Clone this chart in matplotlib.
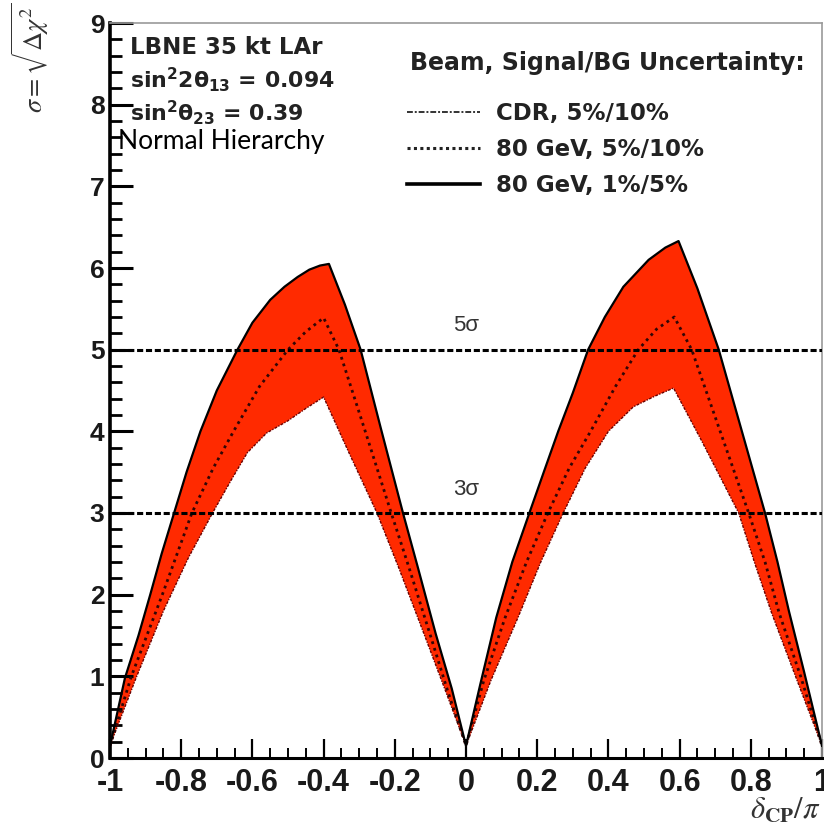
import numpy as np
import matplotlib
matplotlib.use("Agg")
import matplotlib.pyplot as plt
from matplotlib.lines import Line2D
from matplotlib.ticker import MultipleLocator

plt.rcParams["font.family"] = ["Liberation Sans", "DejaVu Sans"]
plt.rcParams["mathtext.fontset"] = "custom"
plt.rcParams["mathtext.rm"] = "DejaVu Sans:bold"
plt.rcParams["mathtext.it"] = "DejaVu Sans:bold"
plt.rcParams["mathtext.bf"] = "DejaVu Sans:bold"

# values (delta_CP / pi, sigma)
x_best = [-1, -0.958, -0.92, -0.887, -0.855, -0.82, -0.785, -0.746, -0.70, -0.642,
          -0.60, -0.55, -0.51, -0.473, -0.44, -0.41, -0.385, -0.34, -0.296, -0.24,
          -0.177, -0.135, -0.085, -0.04, 0,
          0.04, 0.085, 0.13, 0.178, 0.22, 0.259, 0.30, 0.343, 0.39, 0.442,
          0.513, 0.56, 0.597, 0.65, 0.71, 0.775, 0.84, 0.875, 0.907, 0.95, 1.0]
y_best = [0.15, 0.98, 1.5, 2.0, 2.5, 3.0, 3.5, 4.0, 4.5, 5.0,
          5.33, 5.61, 5.77, 5.89, 5.98, 6.03, 6.05, 5.55, 5.0, 4.05,
          3.0, 2.33, 1.52, 0.85, 0.15,
          0.9, 1.72, 2.4, 3.0, 3.52, 4.0, 4.47, 5.0, 5.4, 5.77,
          6.1, 6.25, 6.33, 5.75, 5.0, 4.0, 3.0, 2.4, 1.8, 1.05, 0.15]

x_mid = [-1, -0.94, -0.853, -0.77, -0.71, -0.653, -0.58, -0.50, -0.45, -0.40,
         -0.357, -0.283, -0.21, -0.16, -0.10, -0.05, 0,
         0.05, 0.11, 0.17, 0.23, 0.29, 0.35, 0.42, 0.484, 0.535, 0.585,
         0.634, 0.714, 0.794, 0.84, 0.88, 0.94, 1.0]
y_mid = [0.15, 1.0, 2.0, 3.0, 3.55, 4.0, 4.55, 5.0, 5.22, 5.39,
         5.0, 4.0, 3.0, 2.33, 1.5, 0.8, 0.15,
         0.95, 1.72, 2.4, 3.0, 3.55, 4.0, 4.55, 5.0, 5.25, 5.40,
         5.0, 4.0, 3.0, 2.4, 1.77, 1.0, 0.15]

x_cdr = [-1, -0.925, -0.85, -0.78, -0.712, -0.66, -0.614, -0.56, -0.50, -0.45,
         -0.40, -0.33, -0.25, -0.189, -0.118, -0.06, 0,
         0.07, 0.146, 0.21, 0.273, 0.335, 0.40, 0.47, 0.53, 0.583,
         0.66, 0.766, 0.81, 0.859, 0.93, 1.0]
y_cdr = [0.15, 1.0, 1.8, 2.45, 3.0, 3.4, 3.74, 3.98, 4.13, 4.28,
         4.42, 3.75, 3.0, 2.33, 1.52, 0.85, 0.15,
         0.95, 1.72, 2.4, 3.0, 3.55, 4.0, 4.3, 4.43, 4.53,
         3.9, 3.0, 2.4, 1.77, 0.95, 0.15]

sig_levels = [3, 5]
sig_labels = ["3\u03c3", "5\u03c3"]
legend_title = "Beam, Signal/BG Uncertainty:"
legend_labels = ["CDR, 5%/10%", "80 GeV, 5%/10%", "80 GeV, 1%/5%"]

W, H = 824, 836


def px(x, y):
    return x / W, 1 - y / H


fig = plt.figure(figsize=(W / 100, H / 100), dpi=100)
ax = fig.add_axes([110 / W, 1 - 758 / H, (822 - 110) / W, (758 - 23) / H])

# red band between CDR and best curve
ax.fill(np.concatenate([x_best, x_cdr[::-1]]),
        np.concatenate([y_best, y_cdr[::-1]]),
        color="#ff2a00", lw=0, zorder=1)
ax.plot(x_cdr, y_cdr, color="#6a0000", lw=1.0, dashes=(2, 1, 1, 1), zorder=2)
ax.plot(x_mid, y_mid, color="#300606", lw=2.0, dashes=(1, 1.5), zorder=3)
ax.plot(x_best, y_best, color="black", lw=1.6, zorder=4)

for lev, lab in zip(sig_levels, sig_labels):
    ax.axhline(lev, color="black", lw=2.2, dashes=(2, 0.9), zorder=5)
    ax.text(0, lev + 0.29, lab, ha="center", va="center", fontsize=16,
            color="#333333")

ax.set_xlim(-1, 1)
ax.set_ylim(0, 9)
ax.xaxis.set_major_locator(MultipleLocator(0.2))
ax.xaxis.set_minor_locator(MultipleLocator(0.05))
ax.yaxis.set_major_locator(MultipleLocator(1))
ax.yaxis.set_minor_locator(MultipleLocator(0.2))
ax.tick_params(axis="y", which="major", direction="in", length=16.5, width=2.2,
               pad=4, labelsize=19)
ax.tick_params(axis="y", which="minor", direction="in", length=8.5, width=2.0)
ax.tick_params(axis="x", which="major", direction="in", length=14, width=1.6,
               pad=7, labelsize=22)
ax.tick_params(axis="x", which="minor", direction="in", length=7, width=1.4)
ax.set_xticks([-1, -0.8, -0.6, -0.4, -0.2, 0, 0.2, 0.4, 0.6, 0.8, 1])
ax.set_xticklabels(["-1", "-0.8", "-0.6", "-0.4", "-0.2", "0", "0.2", "0.4",
                    "0.6", "0.8", "1"])
for lab in ax.get_xticklabels() + ax.get_yticklabels():
    lab.set_fontweight("bold")
    lab.set_color("#1a1a1a")

ax.spines["left"].set_linewidth(2.6)
ax.spines["bottom"].set_linewidth(2.2)
for s in ["top", "right"]:
    ax.spines[s].set_color("#9a9a9a")
    ax.spines[s].set_linewidth(1.2)

# axis titles
fig.text(*px(30, 2), r"$\sigma = \sqrt{\Delta\chi^2}$", rotation=90,
         ha="center", va="top", fontsize=19, math_fontfamily="stix",
         color="#333333")
fig.text(*px(821, 795), r"$\delta_{\mathbf{CP}}/\pi$", ha="right", va="top",
         fontsize=22, math_fontfamily="stix", color="#333333")

# info text
info_color = "#222222"
info_font = ["DejaVu Sans"]
fig.text(*px(130, 47), "LBNE 35 kt LAr", ha="left", va="center",
         fontsize=16.5, fontweight="bold", family=info_font, color=info_color)
fig.text(*px(130, 80), r"sin$^2$2$\theta_{13}$ = 0.094", ha="left",
         va="center", fontsize=15.8, fontweight="bold", family=info_font,
         color=info_color)
fig.text(*px(130, 113), r"sin$^2\theta_{23}$ = 0.39", ha="left",
         va="center", fontsize=15.8, fontweight="bold", family=info_font,
         color=info_color)
fig.text(*px(118, 142), "Normal Hierarchy", ha="left", va="center",
         fontsize=19, family=["Lato", "DejaVu Sans"], color="black")

# legend
fig.text(*px(410, 63), legend_title, ha="left", va="center", fontsize=17,
         fontweight="bold", family=info_font, color=info_color)
handles = [
    Line2D([], [], color="#333333", lw=1.4, dashes=(3, 1, 1, 1)),
    Line2D([], [], color="#222222", lw=2.2, dashes=(1, 1.1)),
    Line2D([], [], color="black", lw=2.6),
]
leg = fig.legend(handles, legend_labels, loc="upper left",
                 bbox_to_anchor=px(407, 102), frameon=False,
                 prop={"size": 16.5, "weight": "bold", "family": info_font},
                 handlelength=3.2, handletextpad=0.68, labelspacing=0.56,
                 borderpad=0, borderaxespad=0)
for t in leg.get_texts():
    t.set_color(info_color)

fig.savefig("out.png", dpi=100)
